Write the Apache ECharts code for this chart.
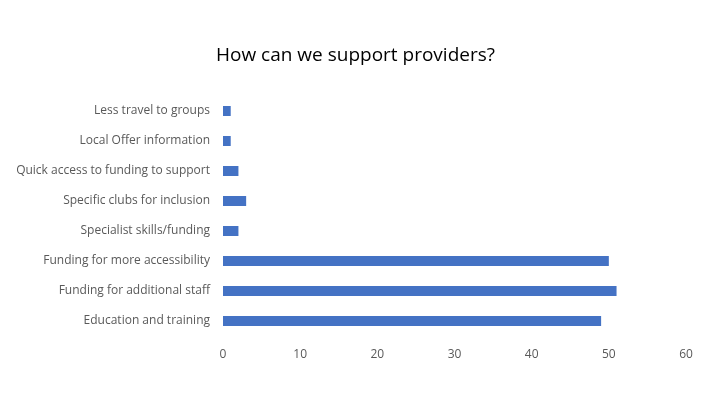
<!DOCTYPE html>
<html><head><meta charset="utf-8">
<script src="https://cdn.jsdelivr.net/npm/echarts@6/dist/echarts.min.js"></script>
<style>html,body{margin:0;padding:0;background:#fff}#c{width:711px;height:400px}</style>
</head><body><div id="c"></div>
<script>
const categories = ["Education and training","Funding for additional staff","Funding for more accessibility","Specialist skills/funding","Specific clubs for inclusion","Quick access to funding to support","Local Offer information","Less travel to groups"];
const values = [49, 51, 50, 2, 3, 2, 1, 1];
const xTicks = [0, 10, 20, 30, 40, 50, 60];
const chart = echarts.init(document.getElementById('c'));
chart.setOption({
  animation: false,
  backgroundColor: '#fff',
  title: {text: 'How can we support providers?', left: 'center', top: 41,
    textStyle: {fontFamily: 'Open Sans', fontSize: 19, fontWeight: 'normal', color: '#000'}},
  grid: {left: 223, right: 25, top: 96, bottom: 64},
  xAxis: {type: 'value', min: xTicks[0], max: xTicks[xTicks.length-1], interval: 10,
    axisLine: {show: false}, axisTick: {show: false}, splitLine: {show: false},
    axisLabel: {color: '#595959', fontFamily: 'Open Sans', fontSize: 12, margin: 13}},
  yAxis: {type: 'category', data: categories,
    axisLine: {show: false}, axisTick: {show: false},
    axisLabel: {color: '#595959', fontFamily: 'Open Sans', fontSize: 12, margin: 13}},
  series: [{type: 'bar', data: values, barWidth: 10, itemStyle: {color: '#4472C4'}}]
});
</script></body></html>
